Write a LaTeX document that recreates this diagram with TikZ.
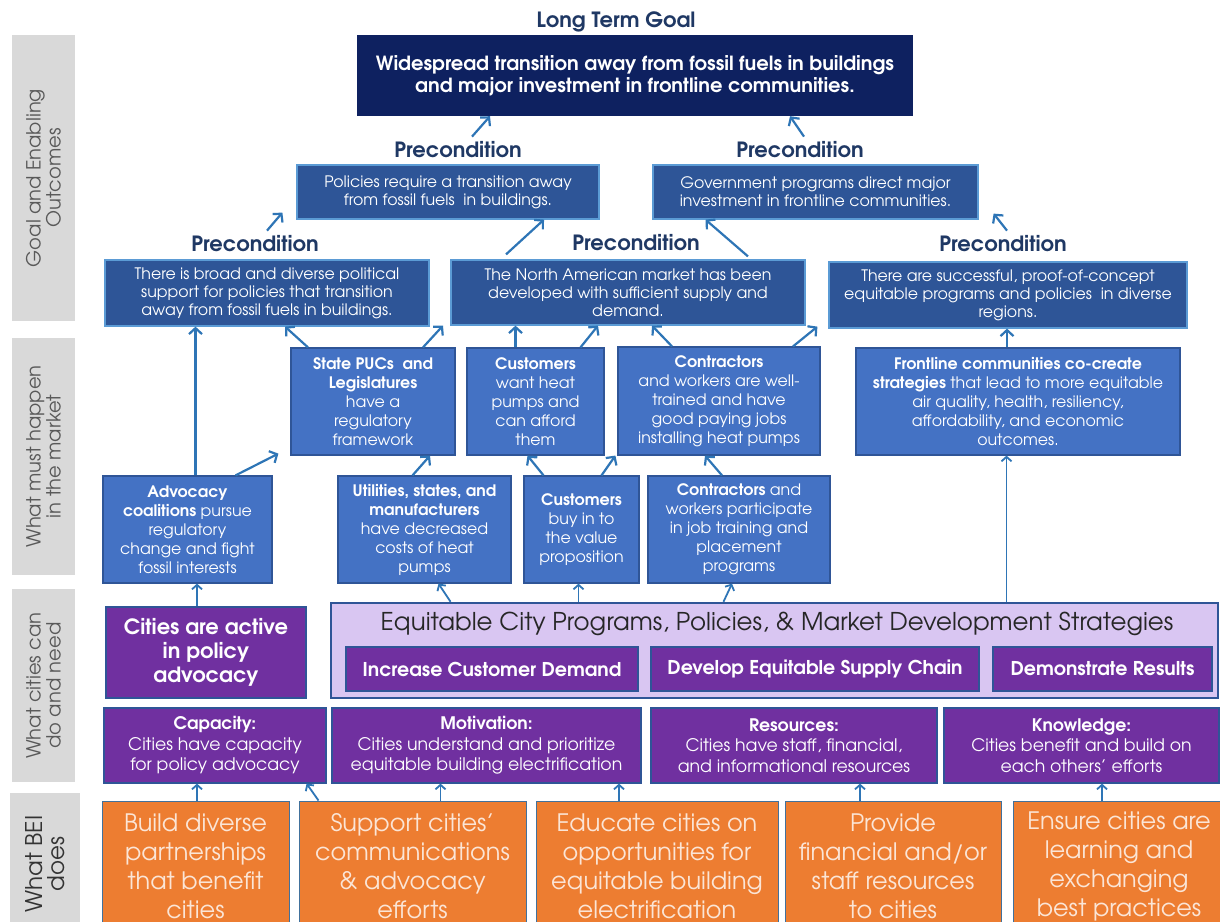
\documentclass[tikz,border=0pt]{standalone}
\usepackage{fontspec}
\setmainfont{texgyreadventor}[Extension=.otf, UprightFont=*-regular, BoldFont=*-bold, ItalicFont=*-italic, BoldItalicFont=*-bolditalic]
\usetikzlibrary{arrows.meta,positioning}

\definecolor{bandgray}{HTML}{D9D9D9}
\definecolor{bandtxt}{HTML}{595959}
\definecolor{labelnavy}{HTML}{1F3864}
\definecolor{goalnavy}{HTML}{0E2160}
\definecolor{precblue}{HTML}{2E5597}
\definecolor{precedge}{HTML}{5B9BD5}
\definecolor{mktblue}{HTML}{4472C4}
\definecolor{mktedge}{HTML}{2F5597}
\definecolor{citypurple}{HTML}{7030A0}
\definecolor{lavender}{HTML}{D9C6F2}
\definecolor{beiorange}{HTML}{ED7D31}
\definecolor{beiedge}{HTML}{41719C}
\definecolor{beitext}{HTML}{FBE5D6}
\definecolor{arrowblue}{HTML}{2E75B6}

\tikzset{
    band/.style={fill=bandgray, rotate=90, align=center, text=bandtxt, inner sep=0pt, font=\fontsize{19.5}{20}\selectfont},
    steplabel/.style={text=labelnavy, inner sep=1pt, font=\bfseries\fontsize{21}{22}\selectfont},
    goalbox/.style={fill=goalnavy, text=white, align=center, inner sep=0pt, font=\bfseries\fontsize{19.5}{22}\selectfont},
    precbox/.style={fill=precblue, draw=precedge, line width=1.2pt, text=white, align=center, inner sep=0pt, font=\fontsize{15.8}{18}\selectfont},
    mktbox/.style={fill=mktblue, draw=mktedge, line width=1.2pt, text=white, align=center, inner sep=0pt, font=\fontsize{15.8}{19}\selectfont},
    citybox/.style={fill=citypurple, draw=mktedge, line width=1.2pt, text=white, align=center, inner sep=0pt, font=\fontsize{17.3}{20.5}\selectfont},
    beibox/.style={fill=beiorange, draw=beiedge, line width=1pt, text=beitext, align=center, inner sep=0pt, font=\fontsize{24}{29}\selectfont},
    arr/.style={draw=arrowblue, line width=2.2pt, -{Straight Barb[length=6pt,width=13pt]}},
    arrthin/.style={draw=arrowblue, line width=1.8pt, -{Straight Barb[length=4.5pt,width=10pt]}},
}

\begin{document}
\begin{tikzpicture}[x=1pt, y=-1pt]
    \useasboundingbox (0,0) rectangle (1220,921);
    \fill[white] (0,0) rectangle (1220,921);

    % side bands
    \node[band, minimum width=286pt, minimum height=63pt] (band1) at (43.5,178) {Goal and Enabling\\Outcomes};
    \node[band, minimum width=237pt, minimum height=63pt] (band2) at (43.5,456.5) {What must happen\\in the market};
    \node[band, minimum width=193pt, minimum height=63pt] (band3) at (43.5,685.5) {What cities can\\do and need};
    \node[band, minimum width=142pt, minimum height=70pt, text=black!80, font=\fontsize{23}{22}\selectfont] (band4) at (45,864) {What BEI\\does};

    % long term goal
    \node[steplabel] (ltg) at (616,22) {Long Term Goal};
    \node[goalbox, minimum width=556pt, minimum height=81pt] (goal) at (635,75.5) {Widespread transition away from fossil fuels in buildings\\and major investment in frontline communities.};

    % preconditions, upper row
    \node[steplabel] (p1) at (458,150) {Precondition};
    \node[steplabel] (p2) at (800,150) {Precondition};
    \node[precbox, minimum width=302pt, minimum height=54pt] (policies) at (448,192) {Policies require a transition away\\from fossil fuels\ \ in buildings.};
    \node[precbox, minimum width=325pt, minimum height=54pt] (govt) at (815.5,192) {Government programs direct major\\investment in frontline communities.};

    % preconditions, lower row
    \node[steplabel] (p3) at (255,244) {Precondition};
    \node[steplabel] (p4) at (636,243) {Precondition};
    \node[steplabel] (p5) at (1003,244) {Precondition};
    \node[precbox, minimum width=324pt, minimum height=66pt] (broad) at (267,293) {There is broad and diverse political\\support for policies that transition\\away from fossil fuels in buildings.};
    \node[precbox, minimum width=354pt, minimum height=65pt] (northam) at (628,292.5) {The North American market has been\\developed with sufficient supply and\\demand.};
    \node[precbox, minimum width=358pt, minimum height=66pt] (success) at (1008,295) {There are successful, proof-of-concept\\equitable programs and policies\ \ in diverse\\regions.};

    % market, upper row
    \node[mktbox, minimum width=164pt, minimum height=107pt] (pucs) at (373,401.5) {\textbf{State PUCs\ \ and}\\\textbf{Legislatures}\\have a\\regulatory\\framework};
    \node[mktbox, minimum width=137pt, minimum height=107pt] (custwant) at (535.5,401.5) {\textbf{Customers}\\want heat\\pumps and\\can afford\\them};
    \node[mktbox, minimum width=202pt, minimum height=108pt] (conwell) at (719,401) {\textbf{Contractors}\\and workers are well-\\trained and have\\good paying jobs\\installing heat pumps};
    \node[mktbox, minimum width=324pt, minimum height=107pt] (frontline) at (1018,401.5) {\textbf{Frontline communities co-create}\\\textbf{strategies} that lead to more equitable\\air quality, health, resiliency,\\affordability, and economic\\outcomes.};

    % market, lower row
    \node[mktbox, minimum width=169pt, minimum height=107pt] (advocacy) at (187.5,529.5) {\textbf{Advocacy}\\\textbf{coalitions} pursue\\regulatory\\change and fight\\fossil interests};
    \node[mktbox, minimum width=173pt, minimum height=107pt] (utilities) at (424.5,529.5) {\textbf{Utilities, states, and}\\\textbf{manufacturers}\\have decreased\\costs of heat\\pumps};
    \node[mktbox, minimum width=115pt, minimum height=107pt] (custbuy) at (581.5,529.5) {\textbf{Customers}\\buy in to\\the value\\proposition};
    \node[mktbox, minimum width=182pt, minimum height=107pt] (conpart) at (739,529.5) {\textbf{Contractors} and\\workers participate\\in job training and\\placement\\programs};

    % what cities can do
    \node[citybox, minimum width=200pt, minimum height=91pt, font=\bfseries\fontsize{21}{24}\selectfont] (active) at (206,652.5) {Cities are active\\in policy\\advocacy};
    \node[fill=lavender, draw=mktedge, line width=2.5pt, minimum width=887pt, minimum height=95pt] (equit) at (774.5,650.5) {};
    \node[text=black!85, inner sep=0pt, font=\fontsize{24.5}{26}\selectfont] (eqtitle) at (777,624) {Equitable City Programs, Policies, \& Market Development Strategies};
    \node[citybox, minimum width=292pt, minimum height=44pt, font=\bfseries\fontsize{19}{20}\selectfont] (demand) at (492,669) {Increase Customer Demand};
    \node[citybox, minimum width=328pt, minimum height=44pt, font=\bfseries\fontsize{19}{20}\selectfont] (supply) at (815,669) {Develop Equitable Supply Chain};
    \node[citybox, minimum width=219pt, minimum height=44pt, font=\bfseries\fontsize{19}{20}\selectfont] (results) at (1102.5,669) {Demonstrate Results};

    % what cities need
    \node[citybox, minimum width=222pt, minimum height=75pt] (capacity) at (215,745.5) {\textbf{Capacity:}\\Cities have capacity\\for policy advocacy};
    \node[citybox, minimum width=309pt, minimum height=75pt] (motivation) at (486.5,745.5) {\textbf{Motivation:}\\Cities understand and prioritize\\equitable building electrification};
    \node[citybox, minimum width=286pt, minimum height=75pt] (resources) at (794,745.5) {\textbf{Resources:}\\Cities have staff, financial,\\and informational resources};
    \node[citybox, minimum width=275pt, minimum height=75pt] (knowledge) at (1081.5,745.5) {\textbf{Knowledge:}\\Cities benefit and build on\\each others’ efforts};

    % what BEI does
    \node[beibox, minimum width=187pt, minimum height=130pt] (build) at (195.5,866) {Build diverse\\partnerships\\that benefit\\cities};
    \node[beibox, minimum width=227pt, minimum height=130pt] (support) at (412.5,866) {Support cities\symbol{39}\\communications\\\& advocacy\\efforts};
    \node[beibox, minimum width=242pt, minimum height=130pt] (educate) at (657,866) {Educate cities on\\opportunities for\\equitable building\\electrification};
    \node[beibox, minimum width=216pt, minimum height=130pt] (provide) at (893,866) {Provide\\financial and/or\\staff resources\\to cities};
    \node[beibox, minimum width=212pt, minimum height=130pt] (ensure) at (1119,866) {Ensure cities are\\learning and\\exchanging\\best practices};

    % arrows into the goal and the upper preconditions
    \draw[arr] ([xshift=14pt,yshift=4pt]p1.north) -- ([xshift=-145pt]goal.south);
    \draw[arr] ([xshift=4pt,yshift=4pt]p2.north) -- ([xshift=155pt]goal.south);
    \draw[arr] ([xshift=12pt,yshift=4pt]p3.north) -- ([xshift=-14pt,yshift=7pt]policies.south west);
    \draw[arr] ([xshift=-122pt,yshift=5pt]northam.north) -- ([xshift=96pt]policies.south);
    \draw[arr] ([xshift=120pt,yshift=3pt]northam.north) -- ([xshift=-110pt]govt.south);
    \draw[arr] ([xshift=4pt,yshift=4pt]p5.north) -- ([xshift=15pt,yshift=6pt]govt.south east);

    % arrows into the lower preconditions
    \coordinate (cw) at ([xshift=-20pt]custwant.north);
    \coordinate (fl) at ([xshift=-11pt]frontline.north);
    \coordinate (ad) at ([xshift=8pt]advocacy.north);
    \draw[arr] ([xshift=-65pt]pucs.north) -- ([xshift=18pt]broad.south);
    \draw[arr] ([xshift=50pt]pucs.north) -- ([xshift=-185pt]northam.south);
    \draw[arr] (cw) -- (cw |- northam.south);
    \draw[arr] ([xshift=45pt]custwant.north) -- ([xshift=-30pt]northam.south);
    \draw[arr] ([xshift=-47pt]conwell.north) -- ([xshift=24pt]northam.south);
    \draw[arr] ([xshift=74pt]conwell.north) -- ([xshift=-11pt,yshift=2pt]success.south west);
    \draw[arr] (fl) -- (fl |- success.south);
    \draw[arr] (ad) -- (ad |- broad.south);

    % arrows inside the market
    \draw[arr] ([xshift=48pt]advocacy.north) -- ([xshift=-12pt,yshift=2pt]pucs.south west);
    \draw[arr] ([xshift=-12pt]utilities.north) -- ([xshift=57pt]pucs.south);
    \draw[arr] ([xshift=-38pt]custbuy.north) -- ([xshift=-8pt]custwant.south);
    \draw[arr] ([xshift=20pt]custbuy.north) -- ([xshift=-2pt]conwell.south west);
    \draw[arr] ([xshift=-17pt]conpart.north) -- ([xshift=-14pt]conwell.south);

    % arrows from the cities up to the market
    \coordinate (eb) at ([xshift=-196pt]equit.north);
    \coordinate (ef) at ([xshift=232pt]equit.north);
    \coordinate (ac) at ([xshift=-9pt]active.north);
    \draw[arrthin] ([xshift=-324pt]equit.north) -- ([xshift=14pt]utilities.south);
    \draw[arrthin] (eb) -- (eb |- custbuy.south);
    \draw[arrthin] ([xshift=-51pt]equit.north) -- ([xshift=-7pt]conpart.south);
    \draw[arrthin] (ef) -- (ef |- frontline.south);
    \draw[arrthin] (ac) -- (ac |- advocacy.south);

    % arrows from BEI up to the cities
    \coordinate (bc) at ([xshift=1.5pt]build.north);
    \coordinate (sm) at ([xshift=28pt]support.north);
    \coordinate (em) at ([xshift=-38pt]educate.north);
    \coordinate (pr) at ([xshift=-33pt]provide.north);
    \coordinate (ek) at ([xshift=-17pt]ensure.north);
    \draw[arrthin] (bc) -- (bc |- capacity.south);
    \draw[arrthin] ([xshift=-94pt]support.north) -- ([xshift=-20pt]capacity.south east);
    \draw[arrthin] (sm) -- (sm |- motivation.south);
    \draw[arrthin] (em) -- (em |- motivation.south);
    \draw[arrthin] (pr) -- (pr |- resources.south);
    \draw[arrthin] (ek) -- (ek |- knowledge.south);
\end{tikzpicture}
\end{document}
